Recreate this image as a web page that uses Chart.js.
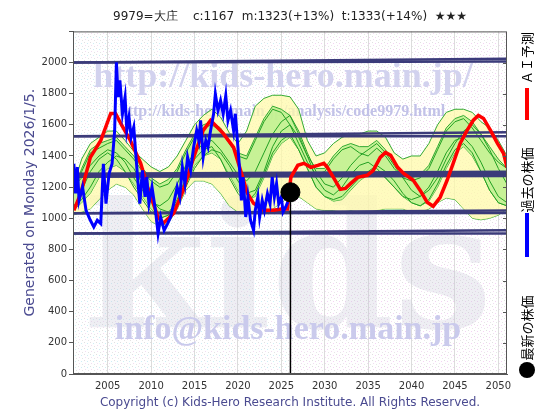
<!DOCTYPE html>
<html>
<head>
<meta charset="utf-8">
<script src="https://cdn.jsdelivr.net/npm/chart.js@4"></script>
<style>
  html, body { margin: 0; padding: 0; background: #fff; }
</style>
</head>
<body>
<canvas id="chart" width="560" height="420"></canvas>
<script>
// ---- data ----
const titleText = '9979=大庄    c:1167  m:1323(+13%)  t:1333(+14%)  ★★★';
const yTicks = [0, 200, 400, 600, 800, 1000, 1200, 1400, 1600, 1800, 2000];
const xTicks = [2005, 2010, 2015, 2020, 2025, 2030, 2035, 2040, 2045, 2050];
const legendLabels = ['ＡＩ予測', '過去の株価', '最新の株価'];

// past prices (blue)
const blueYears = [2001.1, 2001.3, 2001.5, 2001.7, 2002.1, 2002.5, 2003.0, 2003.4, 2003.8, 2004.2, 2004.5, 2004.8,
  2005.15, 2005.5, 2005.8, 2006.0, 2006.2, 2006.4, 2006.7, 2007.0, 2007.2, 2007.45, 2007.7, 2008.0, 2008.2, 2008.5,
  2008.7, 2009.0, 2009.3, 2009.5, 2009.75, 2010.1, 2010.5, 2010.8, 2011.1, 2011.5, 2011.9, 2012.25, 2012.6, 2013.0,
  2013.3, 2013.6, 2013.9, 2014.2, 2014.55, 2014.9, 2015.25, 2015.5, 2015.7, 2016.0, 2016.3, 2016.55, 2016.85, 2017.2,
  2017.4, 2017.7, 2018.0, 2018.3, 2018.6, 2018.85, 2019.15, 2019.5, 2019.7, 2020.0, 2020.2, 2020.4, 2020.6, 2020.9,
  2021.15, 2021.45, 2021.8, 2022.0, 2022.3, 2022.5, 2022.8, 2023.05, 2023.4, 2023.7, 2023.95, 2024.2, 2024.45, 2024.7,
  2025.0, 2025.2, 2025.5, 2025.75];
const blueValues = [1350, 1160, 1329, 1115, 1201, 1051, 987, 944, 987, 966, 1350, 1094,
  1286, 1350, 1564, 2002, 1778, 1885, 1671, 1778, 1564, 1650, 1521, 1585, 1436, 1222,
  1094, 1308, 1137, 1265, 1094, 1201, 1051, 902, 1008, 923, 966, 1008, 1094, 1201,
  1137, 1329, 1222, 1393, 1308, 1457, 1564, 1500, 1628, 1393, 1500, 1457, 1564, 1671,
  1799, 1692, 1756, 1671, 1788, 1628, 1692, 1564, 1671, 1457, 1308, 1115, 1265, 1008,
  1137, 987, 923, 1051, 1137, 1008, 1115, 1051, 1158, 1094, 1265, 1137, 1222, 1094,
  1137, 1040, 1072, 1105];

// AI prediction (red)
const redYears = [2001.1, 2001.9, 2003.0, 2004.2, 2005.35, 2005.9, 2006.5, 2007.6, 2008.8, 2009.6, 2010.8, 2011.4,
  2012.6, 2013.7, 2014.9, 2016.0, 2016.85, 2017.65, 2018.3, 2019.5, 2020.3, 2021.1, 2021.8, 2023.0, 2024.1, 2025.0,
  2025.7, 2026.1, 2026.9, 2027.6, 2028.4, 2029.2, 2029.9, 2030.3, 2031.0, 2031.8, 2032.4, 2033.0, 2033.8, 2034.9,
  2035.6, 2036.4, 2037.0, 2037.6, 2038.4, 2039.1, 2040.2, 2041.0, 2041.8, 2042.5, 2043.3, 2044.1, 2044.8, 2045.6,
  2046.4, 2047.1, 2047.7, 2048.3, 2049.1, 2049.9, 2050.6, 2051.0];
const redValues = [1051, 1160, 1391, 1500, 1673, 1673, 1609, 1500, 1353, 1199, 1006, 968,
  1032, 1179, 1391, 1564, 1628, 1583, 1545, 1455, 1308, 1160, 1096, 1051, 1051, 1060,
  1060, 1263, 1340, 1353, 1327, 1340, 1353, 1327, 1263, 1186, 1192, 1224, 1263, 1276,
  1308, 1391, 1423, 1404, 1327, 1288, 1244, 1179, 1103, 1077, 1135, 1244, 1353, 1481,
  1564, 1628, 1660, 1641, 1564, 1481, 1417, 1327];

// latest price
const latestYear = 2026.05;
const latestValue = 1167;

// similar-pattern band (yearly)
const bandYears = [2001, 2002, 2003, 2004, 2005, 2006, 2007, 2008, 2009, 2010, 2011, 2012, 2013, 2014, 2015, 2016, 2017,
  2018, 2019, 2020, 2021, 2022, 2023, 2024, 2025, 2026, 2027, 2028, 2029, 2030, 2031, 2032, 2033, 2034, 2035,
  2036, 2037, 2038, 2039, 2040, 2041, 2042, 2043, 2044, 2045, 2046, 2047, 2048, 2049, 2050, 2051];
const outerUpper = [1200, 1380, 1480, 1520, 1560, 1560, 1500, 1430, 1380, 1330, 1300, 1330, 1400, 1500, 1600, 1660, 1700,
  1650, 1550, 1480, 1560, 1720, 1770, 1790, 1790, 1780, 1700, 1500, 1400, 1420, 1480, 1520, 1540, 1540, 1560,
  1560, 1520, 1420, 1380, 1400, 1400, 1480, 1600, 1680, 1700, 1700, 1680, 1620, 1580, 1500, 1400];
const outerLower = [1020, 1040, 1060, 1120, 1180, 1220, 1200, 1150, 1060, 980, 950, 970, 1060, 1180, 1240, 1240, 1220,
  1160, 1080, 1040, 1040, 1040, 1060, 1060, 1100, 1140, 1140, 1100, 1060, 1050, 1050, 1040, 1050, 1040, 1040,
  1050, 1060, 1060, 1060, 1040, 1040, 1060, 1100, 1130, 1120, 1060, 1000, 990, 1000, 1020, 1060];
const innerUpper = [1150, 1320, 1440, 1480, 1500, 1520, 1460, 1400, 1320, 1260, 1220, 1250, 1320, 1440, 1540, 1600, 1620,
  1580, 1500, 1420, 1400, 1520, 1640, 1720, 1700, 1660, 1540, 1400, 1320, 1320, 1400, 1460, 1480, 1460, 1460,
  1500, 1440, 1360, 1300, 1260, 1280, 1340, 1460, 1580, 1640, 1660, 1620, 1540, 1460, 1380, 1320];
const innerLower = [1050, 1100, 1160, 1260, 1320, 1340, 1300, 1220, 1140, 1060, 1000, 1020, 1100, 1220, 1340, 1400, 1420,
  1380, 1280, 1180, 1120, 1140, 1260, 1400, 1480, 1520, 1440, 1320, 1200, 1140, 1110, 1120, 1180, 1240, 1280,
  1300, 1260, 1200, 1140, 1100, 1080, 1110, 1200, 1320, 1420, 1460, 1400, 1300, 1180, 1100, 1080];
const greenLines = [
  [1150, 1300, 1420, 1450, 1480, 1500, 1440, 1380, 1300, 1240, 1200, 1220, 1300, 1420, 1520, 1580, 1600, 1560, 1480, 1400,
   1380, 1500, 1620, 1700, 1680, 1600, 1480, 1360, 1280, 1300, 1380, 1440, 1460, 1420, 1400, 1450, 1400, 1320, 1260, 1240,
   1260, 1320, 1440, 1560, 1620, 1640, 1580, 1500, 1420, 1360, 1320],
  [1080, 1120, 1200, 1300, 1360, 1400, 1380, 1320, 1220, 1120, 1060, 1040, 1100, 1200, 1320, 1400, 1440, 1420, 1340, 1240,
   1160, 1180, 1300, 1460, 1560, 1600, 1520, 1400, 1260, 1180, 1150, 1200, 1280, 1340, 1360, 1320, 1260, 1200, 1140, 1120,
   1140, 1200, 1300, 1420, 1500, 1520, 1460, 1360, 1240, 1140, 1100],
  [1200, 1260, 1340, 1400, 1440, 1420, 1360, 1260, 1180, 1100, 1080, 1120, 1220, 1340, 1420, 1480, 1500, 1440, 1360, 1280,
   1240, 1300, 1420, 1540, 1620, 1660, 1560, 1420, 1300, 1220, 1200, 1260, 1340, 1400, 1440, 1480, 1420, 1340, 1260, 1180,
   1140, 1180, 1260, 1380, 1480, 1560, 1600, 1540, 1440, 1320, 1220],
  [1050, 1180, 1300, 1380, 1420, 1380, 1300, 1200, 1120, 1040, 1000, 1020, 1120, 1260, 1380, 1440, 1460, 1380, 1260, 1160,
   1100, 1160, 1280, 1420, 1500, 1540, 1440, 1320, 1200, 1140, 1120, 1140, 1200, 1260, 1300, 1340, 1300, 1240, 1160, 1100,
   1080, 1120, 1220, 1340, 1440, 1480, 1420, 1300, 1180, 1100, 1080]
];

// support/resistance lines: value at left edge and at right edge
const levelYears = [2001, 2051];
const levelStart = [2000, 2000, 1526, 1526, 1282, 1270, 1032, 1032, 902, 902];
const levelEnd   = [2024, 2006, 1553, 1526, 1295, 1275, 1050, 1034, 923, 902];

// ---- helpers ----
const pts = (xs, ys) => xs.map((x, i) => ({ x: x, y: ys[i] }));
const navy = '#3b3b7a';
const textNavy = '#4a4a90';

function makePattern(ctx, dots) {
  const c = document.createElement('canvas');
  c.width = 6; c.height = 6;
  const g = c.getContext('2d');
  g.fillStyle = '#ffffff';
  g.fillRect(0, 0, 6, 6);
  dots.forEach(([x, y, col]) => { g.fillStyle = col; g.fillRect(x, y, 1, 1); });
  return ctx.createPattern(c, 'repeat');
}

const plotBackground = {
  id: 'plotBackground',
  beforeDraw(chart) {
    const { ctx, chartArea: a, scales } = chart;
    const split = scales.x.getPixelForValue(latestYear);
    ctx.save();
    ctx.fillStyle = makePattern(ctx, [[0, 0, '#e0e0e0'], [3, 1, '#cdeef6'], [1, 3, '#f2dcf2'], [4, 4, '#e4e4e4']]);
    ctx.fillRect(a.left, a.top, split - a.left, a.height);
    ctx.fillStyle = makePattern(ctx, [[0, 0, '#e0e0e0'], [3, 1, '#f4d2f4'], [1, 3, '#f2dcf2'], [4, 4, '#e6e6e6']]);
    ctx.fillRect(split, a.top, a.right - split, a.height);
    ctx.restore();
  }
};

const watermarks = {
  id: 'watermarks',
  beforeDatasetsDraw(chart) {
    const { ctx, chartArea: a } = chart;
    ctx.save();
    ctx.beginPath();
    ctx.rect(a.left, a.top, a.width, a.height);
    ctx.clip();
    ctx.textAlign = 'center';
    ctx.textBaseline = 'alphabetic';
    ctx.fillStyle = 'rgba(200,200,214,0.3)';
    ctx.font = 'bold 175px "DejaVu Serif"';
    ctx.fillText('kids', 288, 328);
    ctx.fillStyle = '#d2d2ee';
    ctx.font = 'bold 36px "Liberation Serif"';
    ctx.fillText('http://kids-hero.main.jp/', 283, 87);
    ctx.fillStyle = '#c2c2e8';
    ctx.font = 'bold 16px "Liberation Serif"';
    ctx.fillText('http://kids-hero.main.jp/analysis/code9979.html', 282, 116);
    ctx.fillStyle = '#cacaec';
    ctx.font = 'bold 34px "Liberation Serif"';
    ctx.fillText('info@kids-hero.main.jp', 288, 339);
    ctx.restore();
  }
};

const frame = {
  id: 'frame',
  afterDatasetsDraw(chart) {
    const { ctx, chartArea: a, scales } = chart;
    ctx.save();
    ctx.strokeStyle = '#555';
    ctx.lineWidth = 1;
    ctx.strokeRect(a.left + 0.5, a.top + 0.5, a.width - 1, a.height - 1);
    ctx.beginPath();
    yTicks.forEach(v => {
      const y = Math.round(scales.y.getPixelForValue(v)) + 0.5;
      ctx.moveTo(a.right - 4, y);
      ctx.lineTo(a.right, y);
    });
    ctx.stroke();
    ctx.restore();
  }
};

const sideLegend = {
  id: 'sideLegend',
  afterDraw(chart) {
    const ctx = chart.ctx;
    const x = 527;
    const labelCenters = [58, 180, 328];
    ctx.save();
    ctx.fillStyle = '#000';
    ctx.font = '13px "Noto Sans CJK JP"';
    ctx.textAlign = 'center';
    ctx.textBaseline = 'middle';
    legendLabels.forEach((label, i) => {
      ctx.save();
      ctx.translate(x, labelCenters[i]);
      ctx.rotate(-Math.PI / 2);
      ctx.fillText(label, 0, 0);
      ctx.restore();
    });
    ctx.lineWidth = 4;
    ctx.strokeStyle = '#ff0000';
    ctx.beginPath(); ctx.moveTo(x, 88); ctx.lineTo(x, 120); ctx.stroke();
    ctx.strokeStyle = '#0000ff';
    ctx.beginPath(); ctx.moveTo(x, 213); ctx.lineTo(x, 257); ctx.stroke();
    ctx.fillStyle = '#000';
    ctx.beginPath(); ctx.arc(x, 370, 8, 0, Math.PI * 2); ctx.fill();
    ctx.restore();
  }
};

// ---- datasets ----
const datasets = [];
datasets.push({ data: pts(bandYears, outerUpper), borderColor: '#33aa33', borderWidth: 1, backgroundColor: 'rgba(255,250,170,0.75)', fill: '+1', pointRadius: 0, order: 20 });
datasets.push({ data: pts(bandYears, outerLower), borderColor: '#33aa33', borderWidth: 1, fill: false, pointRadius: 0, order: 20 });
datasets.push({ data: pts(bandYears, innerUpper), borderColor: '#33aa33', borderWidth: 1, backgroundColor: 'rgba(185,240,140,0.8)', fill: '+1', pointRadius: 0, order: 19 });
datasets.push({ data: pts(bandYears, innerLower), borderColor: '#33aa33', borderWidth: 1, fill: false, pointRadius: 0, order: 19 });
greenLines.forEach(vals => {
  datasets.push({ data: pts(bandYears, vals), borderColor: '#22a022', borderWidth: 1, fill: false, pointRadius: 0, order: 18 });
});
levelStart.forEach((v, i) => {
  datasets.push({ data: pts(levelYears, [v, levelEnd[i]]), borderColor: navy, borderWidth: (i === 4 || i === 5) ? 3.5 : 2.5, fill: false, pointRadius: 0, order: 10 });
});
datasets.push({ data: pts([latestYear, latestYear], [latestValue, 0]), borderColor: '#000', borderWidth: 1.5, fill: false, pointRadius: 0, order: 5 });
datasets.push({ data: pts(redYears, redValues), borderColor: '#ff0000', borderWidth: 3.5, fill: false, pointRadius: 0, order: 3 });
datasets.push({ data: pts(blueYears, blueValues), borderColor: '#0000ff', borderWidth: 3, fill: false, pointRadius: 0, order: 2 });
datasets.push({ data: [{ x: latestYear, y: latestValue }], showLine: false, pointRadius: 9.5, pointBackgroundColor: '#000', pointBorderColor: '#000', order: 1 });

new Chart(document.getElementById('chart'), {
  type: 'line',
  data: { datasets: datasets },
  options: {
    responsive: false,
    animation: false,
    events: [],
    layout: { padding: { left: 0, right: 53, top: 0, bottom: 0 } },
    elements: { line: { tension: 0 } },
    plugins: {
      legend: { display: false },
      tooltip: { enabled: false },
      title: {
        display: true,
        text: titleText,
        fullSize: false,
        color: '#222',
        font: { family: 'DejaVu Sans', size: 12, weight: 'normal' },
        padding: { top: 10, bottom: 7 }
      }
    },
    scales: {
      x: {
        type: 'linear',
        min: 2001,
        max: 2051,
        afterBuildTicks: (scale) => { scale.ticks = xTicks.map(v => ({ value: v })); },
        afterFit: (scale) => { scale.height = 46; },
        ticks: { color: '#333', font: { family: 'DejaVu Sans', size: 10 }, padding: 6, maxRotation: 0, callback: (v) => String(v) },
        grid: { color: '#dcdcdc', drawTicks: false },
        border: { color: '#555' },
        title: {
          display: true,
          text: 'Copyright (c) Kids-Hero Research Institute. All Rights Reserved.',
          color: textNavy,
          font: { family: 'DejaVu Sans', size: 12 },
          padding: { top: 0, bottom: 10 }
        }
      },
      y: {
        min: 0,
        max: 2200,
        afterBuildTicks: (scale) => { scale.ticks = yTicks.concat([2200]).map(v => ({ value: v })); },
        afterFit: (scale) => { scale.width = 73; },
        ticks: { color: '#333', font: { family: 'DejaVu Sans', size: 10 }, padding: 2, callback: (v) => (v === 2200 ? '' : String(v)) },
        grid: { drawOnChartArea: false, drawTicks: true, tickLength: 4, color: '#555' },
        border: { color: '#555' },
        title: {
          display: true,
          text: 'Generated on Monday 2026/1/5.',
          color: textNavy,
          font: { family: 'DejaVu Sans', size: 14 },
          padding: { top: 22, bottom: 0 }
        }
      }
    }
  },
  plugins: [plotBackground, watermarks, frame, sideLegend]
});
</script>
</body>
</html>
